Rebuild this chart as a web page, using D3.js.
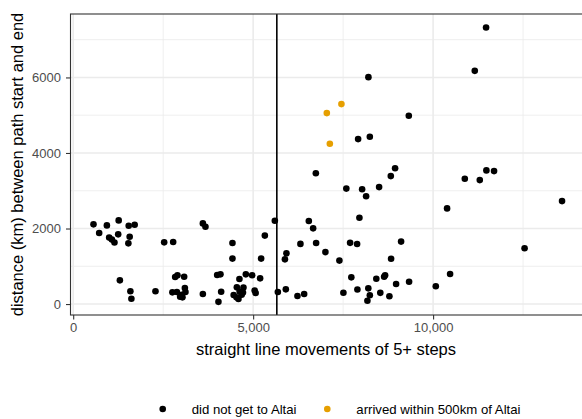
<!DOCTYPE html>
<html><head><meta charset="utf-8">
<script src="https://cdn.jsdelivr.net/npm/d3@7"></script>
<style>
html,body{margin:0;padding:0;background:#fff;}
svg{display:block;font-family:"Liberation Sans",Arial,Helvetica,sans-serif;}
</style></head>
<body>
<svg id="chart" width="582" height="419"></svg>
<script>
// Data
const groups = ["did not get to Altai", "arrived within 500km of Altai"];
const groupColors = ["#000000", "#E69F00"];
const notAltaiX = [564,722,936,1264,1000,1075,1147,1250,1542,1708,1569,1533,2528,2778,1297,1589,1617,2286,
  2833,2897,3083,2756,2881,3019,3103,3119,2972,3036,3603,3603,3675,4000,4092,4111,4036,4425,4425,4619,4797,
  4972,5194,4547,4731,4458,4536,4592,4681,4717,4625,5042,5069,5222,5325,5603,5686,5908,5925,5883,6231,6417,
  6314,6547,6667,6750,6742,7008,7397,7508,7728,7897,8200,8242,8175,8422,8639,8667,8533,8786,8972,9333,7694,
  7889,7953,7589,8028,8139,8500,8825,8944,8833,9111,7917,8242,8203,9325,10075,10472,10389,10881,11297,11481,
  11694,11158,11472,12542,13583];
const notAltaiY = [2110,1880,2083,2215,1760,1707,1628,1845,2073,2099,1781,1607,1633,1641,627,339,140,339,
  715,760,723,310,318,246,424,318,193,177,265,2136,2046,768,786,326,58,1615,1204,662,786,
  762,680,442,437,238,177,132,246,304,331,357,291,1204,1813,2205,318,389,1345,1183,212,265,
  1593,2197,2004,1615,3462,1376,1151,299,707,384,416,233,87,670,723,760,296,206,529,590,1620,
  1588,2284,3057,3039,2853,3097,3388,3594,1199,1654,4367,4428,6008,4984,471,794,2533,3317,3282,3539,
  3520,6175,7324,1477,2726];
const altaiX = [7453,7047,7131];
const altaiY = [5294,5056,4243];
const thresholdX = 5658;
const xTicks = [0,5000,10000];
const xMinor = [2500,7500,12500];
const yTicks = [0,2000,4000,6000];
const yMinor = [1000,3000,5000,7000];
const xTitle = "straight line movements of 5+ steps";
const yTitle = "distance (km) between path start and end";

const svg = d3.select("#chart");
const P = {l:70.5, r:584, t:14, b:315};
const x = d3.scaleLinear().domain([-75,14193]).range([P.l,P.r]);
const y = d3.scaleLinear().domain([-290,7680]).range([P.b,P.t]);

// panel background
svg.append("rect").attr("x",P.l).attr("y",P.t).attr("width",P.r-P.l).attr("height",P.b-P.t).attr("fill","#fff");

const grid = svg.append("g");
grid.selectAll(".xmin").data(xMinor).join("line")
  .attr("x1",d=>x(d)).attr("x2",d=>x(d)).attr("y1",P.t).attr("y2",P.b)
  .attr("stroke","#ebebeb").attr("stroke-width",0.8);
grid.selectAll(".ymin").data(yMinor).join("line")
  .attr("y1",d=>y(d)).attr("y2",d=>y(d)).attr("x1",P.l).attr("x2",P.r)
  .attr("stroke","#ebebeb").attr("stroke-width",0.8);
grid.selectAll(".xmaj").data(xTicks).join("line")
  .attr("x1",d=>x(d)).attr("x2",d=>x(d)).attr("y1",P.t).attr("y2",P.b)
  .attr("stroke","#ebebeb").attr("stroke-width",1.6);
grid.selectAll(".ymaj").data(yTicks).join("line")
  .attr("y1",d=>y(d)).attr("y2",d=>y(d)).attr("x1",P.l).attr("x2",P.r)
  .attr("stroke","#ebebeb").attr("stroke-width",1.6);

// threshold line
svg.append("line").attr("x1",x(thresholdX)).attr("x2",x(thresholdX)).attr("y1",P.t).attr("y2",P.b)
  .attr("stroke","#000").attr("stroke-width",1.6);

// points
const pts = svg.append("g");
pts.selectAll(".p0").data(notAltaiX.map((d,i)=>[d,notAltaiY[i]])).join("circle")
  .attr("cx",d=>x(d[0])).attr("cy",d=>y(d[1])).attr("r",3.3).attr("fill",groupColors[0]);
pts.selectAll(".p1").data(altaiX.map((d,i)=>[d,altaiY[i]])).join("circle")
  .attr("cx",d=>x(d[0])).attr("cy",d=>y(d[1])).attr("r",3.3).attr("fill",groupColors[1]);

// panel border
svg.append("rect").attr("x",P.l).attr("y",P.t).attr("width",P.r-P.l).attr("height",P.b-P.t)
  .attr("fill","none").attr("stroke","#333").attr("stroke-width",1.1);

// axes
const xAxis = svg.append("g").attr("transform",`translate(0,${P.b})`)
  .call(d3.axisBottom(x).tickValues(xTicks).tickFormat(d3.format(",")).tickSize(4.5).tickPadding(3));
const yAxis = svg.append("g").attr("transform",`translate(${P.l},0)`)
  .call(d3.axisLeft(y).tickValues(yTicks).tickFormat(d3.format("d")).tickSize(4.5).tickPadding(5));
[xAxis,yAxis].forEach(a=>{
  a.select(".domain").remove();
  a.selectAll(".tick line").attr("stroke","#333").attr("stroke-width",1.1);
  a.selectAll(".tick text").attr("fill","#4d4d4d").style("font-size","13px").style("font-family","Liberation Sans, Arial, sans-serif");
});

// titles
svg.append("text").attr("x",326).attr("y",354.5).attr("text-anchor","middle")
  .style("font-size","16.5px").attr("fill","#000").text(xTitle);
svg.append("text").attr("transform",`translate(23,${(P.t+P.b)/2}) rotate(-90)`).attr("text-anchor","middle")
  .style("font-size","16.5px").attr("fill","#000").text(yTitle);

// legend
const legX = [162.7, 327.3];
const leg = svg.append("g");
groups.forEach((g,i)=>{
  leg.append("circle").attr("cx",legX[i]).attr("cy",409).attr("r",3.3).attr("fill",groupColors[i]);
  leg.append("text").attr("x",legX[i]+29).attr("y",409).attr("dy","0.35em")
    .style("font-size","13.2px").attr("fill","#000").text(g);
});
</script>
</body></html>
